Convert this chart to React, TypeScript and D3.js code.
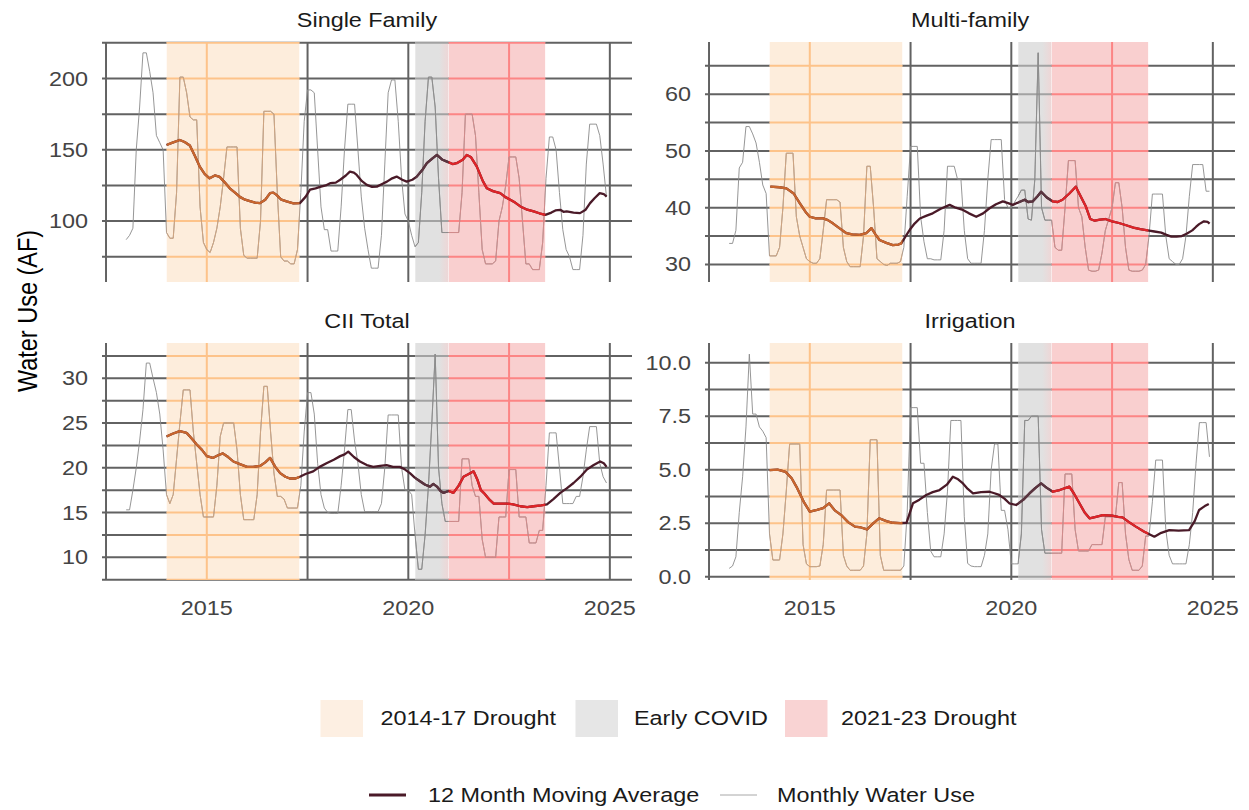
import React from "react";
import * as d3 from "d3";

// ---------- DATA ----------
const START_YEAR = 2013; // monthly series start: Jan 2013

const periods = [
  { label: "2014-17 Drought", start: 2014.0, end: 2017.3 },
  { label: "Early COVID", start: 2020.17, end: 2021.0 },
  { label: "2021-23 Drought", start: 2021.0, end: 2023.4 },
];

const xDomain: [number, number] = [2012.4, 2025.55];
const xTicksMajor = [2015, 2020, 2025];
const xTicksMinor = [2012.5, 2017.5, 2022.5];

// Single Family monthly (AF), Jan 2013 - Dec 2024
const sfMonthly = [
  87, 90, 95, 150, 180, 218, 218, 205, 190, 160, 155, 150,
  92, 88, 88, 120, 201, 201, 190, 173, 171, 171, 110, 85,
  80, 78, 85, 95, 110, 130, 152, 152, 152, 152, 95, 76,
  74, 74, 74, 74, 100, 177, 177, 177, 175, 120, 75, 72,
  72, 70, 70, 80, 120, 170, 192, 192, 190, 150, 110, 94,
  94, 79, 79, 79, 110, 150, 182, 182, 182, 150, 117, 95,
  80, 67, 67, 67, 90, 140, 190, 199, 199, 170, 130, 105,
  100, 90, 82, 85, 120, 170, 201, 201, 180, 130, 92, 92,
  92, 92, 92, 92, 120, 175, 175, 175, 160, 120, 80, 70,
  70, 70, 72, 100, 110, 125, 145, 145, 145, 130, 100, 70,
  70, 66, 66, 66, 85, 130, 159, 159, 150, 120, 94, 80,
  75, 66, 66, 66, 90, 140, 168, 168, 168, 160, 140, 117,
];
const sfMA: [number, number][] = [
  [2014.0, 153.4], [2014.15, 155], [2014.33, 156.9], [2014.45, 155.5], [2014.58, 153], [2014.7, 146],
  [2014.83, 138], [2014.95, 133], [2015.07, 130], [2015.2, 132], [2015.32, 131], [2015.45, 127],
  [2015.57, 123], [2015.7, 120], [2015.82, 117], [2015.95, 115], [2016.07, 114], [2016.2, 113],
  [2016.32, 112.6], [2016.45, 115], [2016.57, 119.6], [2016.65, 120], [2016.73, 118.4], [2016.85, 115],
  [2016.98, 113.8], [2017.15, 112.5], [2017.31, 112.6], [2017.45, 117], [2017.56, 122], [2017.7, 123],
  [2017.81, 124], [2017.95, 125], [2018.06, 126.6], [2018.2, 127], [2018.31, 129], [2018.45, 132],
  [2018.55, 134.7], [2018.65, 134], [2018.72, 132.4], [2018.85, 128], [2018.97, 125.4], [2019.1, 124],
  [2019.22, 124.2], [2019.35, 126], [2019.47, 127.7], [2019.6, 130], [2019.71, 131.2], [2019.85, 129],
  [2019.96, 127.7], [2020.1, 129], [2020.21, 131.2], [2020.35, 136], [2020.46, 140.6], [2020.6, 144],
  [2020.71, 146.4], [2020.85, 143], [2020.96, 141.7], [2021.1, 140], [2021.2, 140.6], [2021.35, 143],
  [2021.45, 146.4], [2021.55, 145], [2021.7, 138.2], [2021.85, 128], [2021.95, 123], [2022.1, 121],
  [2022.28, 119.6], [2022.4, 117], [2022.53, 115], [2022.65, 113], [2022.78, 110.3], [2022.95, 108],
  [2023.11, 106.8], [2023.25, 105.5], [2023.4, 104.4], [2023.55, 106], [2023.65, 107.5], [2023.77, 107.9],
  [2023.85, 106.5], [2023.93, 106.8], [2024.1, 106], [2024.26, 105.6], [2024.4, 108], [2024.51, 112.6],
  [2024.62, 116], [2024.75, 119.6], [2024.85, 119], [2024.92, 117.2],
];

// Multi-family monthly (AF)
const mfMonthly = [
  33.7, 33.7, 36, 47, 48, 54.3, 54.3, 53, 51.4, 48, 44, 42.5,
  31.5, 31.5, 31.5, 33, 40, 49.6, 49.6, 49.6, 38.4, 35, 33, 31,
  30.5, 30.2, 30.2, 31, 36, 41.4, 41.4, 41.4, 41.4, 41, 33, 30.5,
  29.6, 29.6, 29.6, 29.6, 35, 47.3, 47.3, 40, 31, 30.5, 30, 29.8,
  30.2, 30.2, 30.2, 30.5, 33, 42, 50.8, 50.8, 50.8, 38.4, 34, 31,
  31, 30.8, 30.8, 30.8, 36, 47.3, 47.3, 47.3, 45, 45, 36, 31,
  30.2, 30.2, 30.2, 30.2, 36, 45, 52, 52, 52, 52, 41.4, 40,
  40, 41, 42, 43.1, 43.1, 38, 37.8, 45, 67.3, 40, 37.8, 37.8,
  37.8, 33, 32.5, 32.5, 40, 48.3, 48.3, 48.3, 40, 38.4, 33, 29,
  28.8, 28.8, 29, 32, 36, 38, 40, 44.4, 44.4, 40, 33, 29,
  28.8, 28.8, 28.8, 29, 30, 35, 42.4, 42.4, 42.4, 42.4, 35, 31,
  30.5, 30, 30, 31, 35, 42, 47.6, 47.6, 47.6, 47.6, 42.9, 42.9,
];
const mfMA: [number, number][] = [
  [2014.02, 43.7], [2014.25, 43.6], [2014.42, 43.4], [2014.6, 42.5], [2014.75, 40.8], [2014.9, 39.2],
  [2015.0, 38.4], [2015.15, 38.1], [2015.33, 38.1], [2015.45, 37.8], [2015.58, 37.2], [2015.75, 36.3],
  [2015.91, 35.5], [2016.05, 35.3], [2016.24, 35.2], [2016.4, 35.5], [2016.53, 36.4], [2016.63, 35.3],
  [2016.73, 34.3], [2016.9, 33.8], [2017.06, 33.4], [2017.2, 33.5], [2017.27, 33.7], [2017.38, 35],
  [2017.48, 36.1], [2017.6, 37.2], [2017.73, 38.1], [2017.9, 38.6], [2018.05, 39.0], [2018.25, 39.8],
  [2018.47, 40.5], [2018.62, 40.0], [2018.8, 39.6], [2018.95, 39.0], [2019.13, 38.4], [2019.3, 39.0],
  [2019.46, 39.9], [2019.62, 40.6], [2019.79, 41.1], [2019.92, 40.8], [2020.04, 40.5], [2020.2, 41.0],
  [2020.33, 41.4], [2020.42, 41.0], [2020.53, 41.1], [2020.65, 42.0], [2020.74, 42.8], [2020.88, 41.8],
  [2021.03, 41.1], [2021.15, 41.0], [2021.27, 41.4], [2021.44, 42.5], [2021.6, 43.7], [2021.72, 42.0],
  [2021.85, 40.2], [2021.96, 38.0], [2022.07, 37.7], [2022.2, 37.9], [2022.33, 38.0], [2022.5, 37.6],
  [2022.67, 37.3], [2022.85, 36.9], [2023.03, 36.5], [2023.2, 36.2], [2023.38, 36.0], [2023.55, 35.8],
  [2023.72, 35.6], [2023.85, 35.2], [2023.97, 34.9], [2024.1, 34.9], [2024.23, 35.0], [2024.35, 35.4],
  [2024.49, 36.0], [2024.58, 36.6], [2024.66, 37.1], [2024.78, 37.6], [2024.87, 37.5], [2024.92, 37.2],
];

// CII Total monthly (AF)
const ciiMonthly = [
  15.3, 15.3, 17.5, 20, 23, 26.5, 31.7, 31.7, 30, 28.4, 26, 22,
  17, 16, 17, 21, 25, 28.7, 28.7, 28.7, 24, 20.5, 17, 14.5,
  14.5, 14.5, 14.5, 18, 23.5, 25, 25, 25, 25, 22, 17, 14.2,
  14.2, 14.2, 14.2, 17, 24, 29.1, 29.1, 24, 19.4, 16.8, 16.8, 16.5,
  15.5, 15.5, 15.5, 15.5, 18, 24, 28.4, 28.4, 26, 20.5, 17, 15.5,
  15, 14.9, 14.9, 14.9, 18, 22, 26.5, 26.5, 23, 20.5, 17, 15.1,
  15.1, 15.1, 15.1, 15.1, 16, 20, 25.9, 25.9, 25.9, 25.9, 20, 17.5,
  17.5, 17, 12.5, 8.66, 8.66, 12.5, 18, 25, 32.7, 20, 16, 14,
  14, 14, 14, 14, 21, 21, 21, 18, 16.8, 16.8, 12, 10,
  10, 10, 10, 14.5, 14.5, 14.5, 19.8, 19.8, 19.8, 14.5, 14.5, 14.5,
  11.6, 11.6, 11.6, 13, 13, 18, 23.9, 23.9, 23.9, 20, 16, 16,
  16, 16, 16.8, 16.8, 19, 22, 24.6, 24.6, 24.6, 20.5, 19, 18.3,
];
const ciiMA: [number, number][] = [
  [2014.0, 23.5], [2014.15, 23.8], [2014.33, 24.1], [2014.5, 23.9], [2014.62, 23.3], [2014.75, 22.6],
  [2014.88, 22.0], [2015.0, 21.3], [2015.15, 21.1], [2015.28, 21.4], [2015.4, 21.6], [2015.53, 21.2],
  [2015.66, 20.7], [2015.82, 20.4], [2016.0, 20.1], [2016.15, 20.1], [2016.32, 20.2], [2016.45, 20.6],
  [2016.57, 21.1], [2016.7, 20.1], [2016.82, 19.4], [2016.95, 19.0], [2017.06, 18.8], [2017.2, 18.8],
  [2017.31, 19.0], [2017.45, 19.3], [2017.64, 19.6], [2017.8, 20.1], [2017.97, 20.5], [2018.15, 20.9],
  [2018.31, 21.3], [2018.42, 21.5], [2018.51, 21.8], [2018.65, 21.2], [2018.8, 20.7], [2018.97, 20.3],
  [2019.13, 20.1], [2019.3, 20.2], [2019.46, 20.3], [2019.62, 20.1], [2019.79, 20.1], [2019.92, 19.8],
  [2020.04, 19.4], [2020.16, 18.9], [2020.29, 18.5], [2020.42, 18.1], [2020.54, 17.9], [2020.62, 18.2],
  [2020.71, 17.9], [2020.8, 17.4], [2020.87, 17.2], [2021.0, 17.4], [2021.12, 17.2], [2021.25, 18.0],
  [2021.37, 19.0], [2021.5, 19.3], [2021.62, 19.6], [2021.72, 18.6], [2021.8, 17.5], [2021.87, 17.2],
  [2022.0, 16.5], [2022.12, 16.0], [2022.3, 16.0], [2022.45, 16.0], [2022.6, 15.9], [2022.78, 15.7],
  [2022.95, 15.6], [2023.11, 15.7], [2023.3, 15.8], [2023.44, 15.9], [2023.6, 16.5], [2023.77, 17.2],
  [2023.93, 17.7], [2024.1, 18.3], [2024.27, 19.0], [2024.43, 19.8], [2024.6, 20.3], [2024.76, 20.7],
  [2024.85, 20.5], [2024.92, 20.1],
];

// Irrigation monthly (AF)
const irrMonthly = [
  0.39, 0.5, 0.93, 3, 4.67, 7, 10.4, 7.6, 7.6, 7, 6.8, 6.5,
  2, 0.78, 0.78, 0.78, 2, 4, 6.2, 6.2, 6.2, 6.2, 1.5, 0.6,
  0.47, 0.47, 0.47, 0.5, 1.5, 4.05, 4.05, 4.05, 4.05, 4.05, 1, 0.5,
  0.3, 0.3, 0.3, 0.3, 0.5, 2, 6.4, 6.4, 6.4, 1, 0.3, 0.3,
  0.3, 0.3, 0.3, 0.3, 0.5, 3, 7.9, 7.9, 7.9, 5.3, 5.3, 3,
  1.2, 0.93, 0.93, 0.93, 2, 4, 7.3, 7.3, 7.3, 7.3, 2.8, 0.62,
  0.5, 0.47, 0.47, 0.47, 1, 2, 5, 6.2, 6.2, 3.1, 3.1, 2.2,
  0.6, 0.6, 0.6, 2, 7.3, 7.3, 7.5, 7.5, 7.5, 2.2, 1.1, 1.1,
  1.1, 1.1, 1.1, 1.1, 4.8, 4.8, 4.8, 2.2, 1.2, 1.2, 1.2, 1.2,
  1.5, 1.5, 1.5, 1.5, 2.8, 2.8, 2.8, 2.8, 4.4, 4.4, 2, 0.8,
  0.3, 0.3, 0.3, 0.5, 1.9, 1.9, 3.5, 5.45, 5.45, 5.45, 2.2, 1,
  0.6, 0.6, 0.6, 0.6, 0.6, 1.5, 3, 5.3, 7.2, 7.2, 7.2, 5.6,
];
const irrMA: [number, number][] = [
  [2014.0, 4.98], [2014.2, 5.0], [2014.4, 4.9], [2014.55, 4.6], [2014.67, 4.2], [2014.85, 3.5],
  [2015.0, 3.04], [2015.18, 3.12], [2015.33, 3.2], [2015.48, 3.43], [2015.62, 3.1], [2015.78, 2.88],
  [2015.95, 2.55], [2016.12, 2.34], [2016.27, 2.3], [2016.42, 2.21], [2016.58, 2.5], [2016.72, 2.73],
  [2016.9, 2.6], [2017.06, 2.52], [2017.25, 2.5], [2017.4, 2.52], [2017.56, 3.43], [2017.72, 3.6],
  [2017.89, 3.82], [2018.05, 3.95], [2018.22, 4.05], [2018.4, 4.3], [2018.55, 4.67], [2018.68, 4.55],
  [2018.8, 4.36], [2018.92, 4.1], [2019.05, 3.89], [2019.25, 3.95], [2019.46, 3.97], [2019.58, 3.9],
  [2019.7, 3.82], [2019.83, 3.65], [2019.95, 3.43], [2020.12, 3.35], [2020.3, 3.6], [2020.45, 3.89],
  [2020.6, 4.15], [2020.74, 4.36], [2020.88, 4.15], [2021.03, 3.97], [2021.2, 4.05], [2021.44, 4.21],
  [2021.55, 3.9], [2021.69, 3.43], [2021.82, 3.0], [2021.94, 2.73], [2022.1, 2.8], [2022.27, 2.88],
  [2022.5, 2.85], [2022.65, 2.8], [2022.76, 2.77], [2022.92, 2.55], [2023.09, 2.34], [2023.3, 2.1],
  [2023.55, 1.87], [2023.72, 2.05], [2023.92, 2.18], [2024.15, 2.15], [2024.41, 2.18], [2024.55, 2.6],
  [2024.66, 3.12], [2024.8, 3.3], [2024.9, 3.4],
];

const panelTitles = ["Single Family", "Multi-family", "CII Total", "Irrigation"];
const panelMonthly = [sfMonthly, mfMonthly, ciiMonthly, irrMonthly];
const panelMA = [sfMA, mfMA, ciiMA, irrMA];
const panelYDomain: [number, number][] = [
  [57.3, 225.6],
  [26.9, 69.2],
  [7.46, 33.94],
  [-0.154, 10.92],
];
const panelMajorTicks = [
  [100, 150, 200],
  [30, 40, 50, 60],
  [10, 15, 20, 25, 30],
  [0, 2.5, 5, 7.5, 10],
];
const panelMinorTicks = [
  [75, 125, 175, 225],
  [35, 45, 55, 65],
  [7.5, 12.5, 17.5, 22.5, 27.5, 32.5],
  [1.25, 3.75, 6.25, 8.75],
];
const panelTickDecimals = [0, 0, 0, 1];

const lineLegend = ["12 Month Moving Average", "Monthly Water Use"];

// ---------- STYLE / LAYOUT ----------
const W = 1249;
const H = 810;
const SX = 1.2; // horizontal text stretch seen in the reference
const FONT = "'Liberation Sans', Arial, Helvetica, sans-serif";

const boxes = [
  { x0: 102, x1: 632, y0: 42, y1: 282 },
  { x0: 705, x1: 1235, y0: 42, y1: 282 },
  { x0: 102, x1: 632, y0: 343, y1: 580 },
  { x0: 705, x1: 1235, y0: 343, y1: 580 },
];

const GRID = "#626262";
const GRID_W = 2;
const MONTHLY = "#8a8a8a";
const MA = "#4a1a28";
const MA_W = 2.3;
const regionStyle = [
  { fill: "#fdeddc", grid: "#fdc38a", monthly: "#d6a67e", ma: "#c8662e", key: "#fdefe2" },
  { fill: "#e1e1e1", grid: "#a2a2a2", monthly: "#8c8c8c", ma: "#5a3540", key: "#e6e6e6" },
  { fill: "#f9cfcf", grid: "#fc8585", monthly: "#d98a8a", ma: "#de2428", key: "#f9d3d3" },
];

function SText(props: {
  x: number;
  y: number;
  anchor?: string;
  size: number;
  fill: string;
  rotate?: number;
  children: React.ReactNode;
}) {
  const { x, y, anchor = "start", size, fill, rotate, children } = props;
  const t = `translate(${x},${y}) scale(${SX},1)` + (rotate ? ` rotate(${rotate})` : "");
  return (
    <text transform={t} textAnchor={anchor} fontSize={size} fill={fill} fontFamily={FONT}>
      {children}
    </text>
  );
}

function Panel({ idx }: { idx: number }) {
  const box = boxes[idx];
  const yDomain = panelYDomain[idx];
  const x = d3.scaleLinear().domain(xDomain).range([box.x0, box.x1]);
  const y = d3.scaleLinear().domain(yDomain).range([box.y1, box.y0]);
  const monthly = panelMonthly[idx];
  const ma = panelMA[idx];

  const monthlyPath =
    d3
      .line<number>()
      .x((_, i) => x(START_YEAR + i / 12))
      .y((d) => y(d))(monthly) || "";
  const maPath =
    d3
      .line<[number, number]>()
      .x((d) => x(d[0]))
      .y((d) => y(d[1]))(ma) || "";

  const hVals = [...panelMajorTicks[idx], ...panelMinorTicks[idx]].filter(
    (v) => v >= yDomain[0] && v <= yDomain[1]
  );
  const vVals = [...xTicksMajor, ...xTicksMinor].filter((v) => v >= xDomain[0] && v <= xDomain[1]);

  const grid = (color: string) => (
    <g stroke={color} strokeWidth={GRID_W} fill="none">
      {hVals.map((v) => (
        <line key={"h" + v} x1={box.x0} x2={box.x1} y1={y(v)} y2={y(v)} />
      ))}
      {vVals.map((v) => (
        <line key={"v" + v} x1={x(v)} x2={x(v)} y1={box.y0} y2={box.y1} />
      ))}
    </g>
  );

  const clipId = (r: number) => `clip-${idx}-${r}`;
  const gradId = `covidgrad-${idx}`;
  const fmt = d3.format(panelTickDecimals[idx] ? ".1f" : "d");
  const showX = idx >= 2;

  return (
    <g>
      <defs>
        {periods.map((p, r) => (
          <clipPath id={clipId(r)} key={r}>
            <rect x={x(p.start)} y={box.y0} width={x(p.end) - x(p.start)} height={box.y1 - box.y0} />
          </clipPath>
        ))}
        <linearGradient id={gradId} x1="0" x2="1" y1="0" y2="0">
          <stop offset="0" stopColor={regionStyle[1].fill} />
          <stop offset="0.72" stopColor={regionStyle[1].fill} />
          <stop offset="1" stopColor="#eed6d6" />
        </linearGradient>
      </defs>
      {grid(GRID)}
      {periods.map((p, r) => (
        <g key={"reg" + r} clipPath={`url(#${clipId(r)})`}>
          <rect
            x={x(p.start)}
            y={box.y0}
            width={x(p.end) - x(p.start)}
            height={box.y1 - box.y0}
            fill={r === 1 ? `url(#${gradId})` : regionStyle[r].fill}
          />
          {grid(regionStyle[r].grid)}
        </g>
      ))}
      <path d={monthlyPath} fill="none" stroke={MONTHLY} strokeWidth={0.9} />
      {periods.map((p, r) => (
        <g key={"mon" + r} clipPath={`url(#${clipId(r)})`}>
          <path d={monthlyPath} fill="none" stroke={regionStyle[r].monthly} strokeWidth={0.9} />
        </g>
      ))}
      <path d={maPath} fill="none" stroke={MA} strokeWidth={MA_W} strokeLinejoin="round" />
      {periods.map((p, r) => (
        <g key={"ma" + r} clipPath={`url(#${clipId(r)})`}>
          <path d={maPath} fill="none" stroke={regionStyle[r].ma} strokeWidth={MA_W} strokeLinejoin="round" />
        </g>
      ))}
      {/* y tick labels */}
      {panelMajorTicks[idx].map((v) => (
        <SText key={"yl" + v} x={box.x0 - 14} y={y(v) + 7} anchor="end" size={19.5} fill="#444444">
          {fmt(v)}
        </SText>
      ))}
      {/* x tick labels */}
      {showX &&
        xTicksMajor.map((v) => (
          <SText key={"xl" + v} x={x(v)} y={box.y1 + 35} anchor="middle" size={19.5} fill="#444444">
            {String(v)}
          </SText>
        ))}
      {/* strip title */}
      <SText x={(box.x0 + box.x1) / 2} y={box.y0 - 15} anchor="middle" size={19.5} fill="#1a1a1a">
        {panelTitles[idx]}
      </SText>
    </g>
  );
}

export default function App() {
  const fillKeys = [
    { kx: 320.5, tx: 380.5 },
    { kx: 575.5, tx: 634 },
    { kx: 785, tx: 841 },
  ];
  const lineKeys = [
    { kx: 369, tx: 428, color: MA, w: 2.8 },
    { kx: 720, tx: 777, color: "#a8a8a8", w: 1 },
  ];
  return (
    <svg
      width={W}
      height={H}
      viewBox={`0 0 ${W} ${H}`}
      style={{ position: "absolute", left: 0, top: 0, display: "block", background: "#fff" }}
    >
      <rect x={0} y={0} width={W} height={H} fill="#fff" />
      {boxes.map((_, i) => (
        <Panel key={i} idx={i} />
      ))}
      {/* Y axis title */}
      <SText x={37} y={311} anchor="middle" size={23.5} fill="#000" rotate={-90}>
        Water Use (AF)
      </SText>
      {/* fill legend */}
      {periods.map((p, r) => (
        <g key={"lg" + r}>
          <rect x={fillKeys[r].kx} y={700} width={42.5} height={37} fill={regionStyle[r].key} />
          <SText x={fillKeys[r].tx} y={725} size={19.5} fill="#1a1a1a">
            {p.label}
          </SText>
        </g>
      ))}
      {/* line legend */}
      {lineLegend.map((label, i) => (
        <g key={"ll" + i}>
          <line
            x1={lineKeys[i].kx}
            x2={lineKeys[i].kx + 37}
            y1={795}
            y2={795}
            stroke={lineKeys[i].color}
            strokeWidth={lineKeys[i].w}
          />
          <SText x={lineKeys[i].tx} y={802} size={19.5} fill="#1a1a1a">
            {label}
          </SText>
        </g>
      ))}
    </svg>
  );
}
